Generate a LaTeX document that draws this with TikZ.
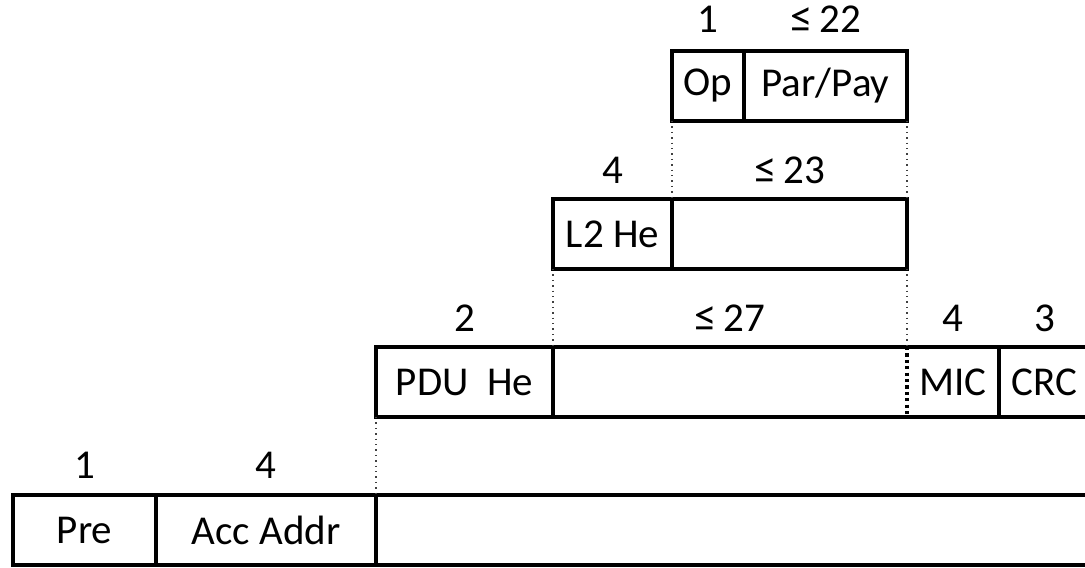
\documentclass[tikz,border=0pt]{standalone}
\usepackage{fontspec}
\setmainfont{Carlito}
\usetikzlibrary{positioning}

\newcommand{\upto}{{\fontsize{22.5}{24}\selectfont ≤}\,}

\tikzset{
	field/.style={draw, line width=2pt, minimum height=35pt, inner sep=0pt, outer sep=0pt,
		font=\fontsize{20.5}{24}\selectfont},
	bytes/.style={anchor=base, inner sep=0pt, font=\fontsize{20.5}{24}\selectfont},
	guide/.style={black!75, line width=0.7pt, dotted},
	micsep/.style={line width=1.6pt, dash pattern=on 1.6pt off 1.6pt},
}

\begin{document}
\begin{tikzpicture}
	\useasboundingbox (0,0) rectangle (542.5pt,-283.5pt);
	\clip (0,0) rectangle (542.5pt,-283.5pt);
	% Link layer packet
	\node[field, minimum width=71.5pt, anchor=north west] (pre) at (6.5pt,-247.5pt) {Pre};
	\node[field, minimum width=110pt, right=0pt of pre] (acc) {Acc Addr};
	\node[field, minimum width=357pt, right=0pt of acc] (pdu) {};
	% PDU
	\node[field, minimum width=88.5pt, above right=39pt and 0pt of acc] (hdr) {PDU~~He};
	\node[field, draw=none, minimum width=177pt, right=0pt of hdr] (pay) {};
	\node[field, draw=none, minimum width=46pt, right=0pt of pay] (mic) {MIC};
	\node[field, minimum width=45.5pt, right=0pt of mic] (crc) {CRC};
	\draw[line width=2pt] (pay.north west) -- (mic.north east) (pay.south west) -- (mic.south east);
	\draw[micsep] (mic.north west) -- (mic.south west);
	% L2CAP
	\node[field, minimum width=59.5pt, above right=39pt and 0pt of hdr] (l2) {L2 He};
	\node[field, minimum width=117.5pt, right=0pt of l2] (l2pay) {};
	% ATT
	\node[field, minimum width=36pt, above right=39pt and 0pt of l2] (op) {Op};
	\node[field, minimum width=81.5pt, right=0pt of op] (par) {Par/Pay};
	% Sizes in bytes
	\node[bytes] at ([yshift=8.5pt]pre.north) {1};
	\node[bytes] at ([yshift=8.5pt]acc.north) {4};
	\node[bytes] at ([yshift=8pt]hdr.north) {2};
	\node[bytes] at ([yshift=8pt]pay.north) {\upto27};
	\node[bytes] at ([yshift=8pt]mic.north) {4};
	\node[bytes] at ([yshift=8pt]crc.north) {3};
	\node[bytes] at ([yshift=8pt]l2.north) {4};
	\node[bytes] at ([yshift=8pt]l2pay.north) {\upto23};
	\node[bytes] at ([yshift=9pt]op.north) {1};
	\node[bytes] at ([yshift=9pt]par.north) {\upto22};
	% Dotted guides
	\draw[guide] (hdr.south west) -- (pdu.north west);
	\draw[guide] (l2.south west) -- (pay.north west);
	\draw[guide] (l2pay.south east) -- (pay.north east);
	\draw[guide] (op.south west) -- (l2pay.north west);
	\draw[guide] (par.south east) -- (l2pay.north east);
\end{tikzpicture}
\end{document}
